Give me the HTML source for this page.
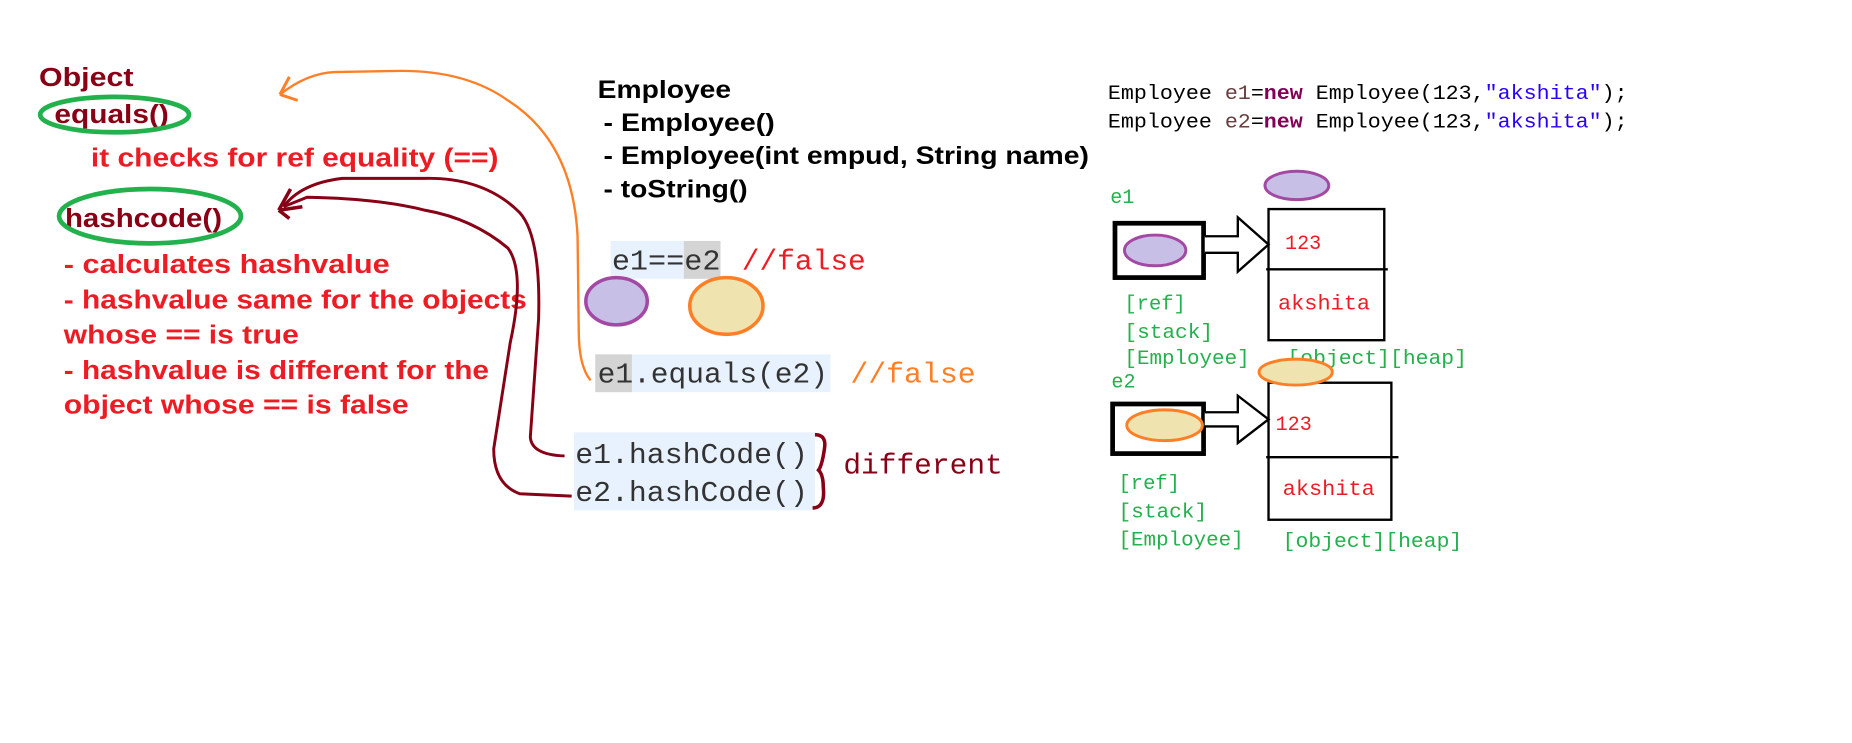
<!DOCTYPE html>
<html><head><meta charset="utf-8"><style>
html,body{margin:0;padding:0;background:#fff;width:1852px;height:743px;overflow:hidden}
svg{display:block}
.b{font-family:"Liberation Sans",sans-serif;font-weight:bold}
.m{font-family:"Liberation Mono",monospace}
</style></head><body>
<svg width="1852" height="743" viewBox="0 0 1568 629" preserveAspectRatio="none" xmlns="http://www.w3.org/2000/svg">
<rect width="1568" height="629" fill="#fff"/>
<g class="b" font-size="22" lengthAdjust="spacingAndGlyphs">
<text x="33" y="73" fill="#880015" textLength="80" lengthAdjust="spacingAndGlyphs">Object</text>
<text x="46" y="104" fill="#880015" textLength="97" lengthAdjust="spacingAndGlyphs">equals()</text>
<text x="77" y="141" fill="#ed1c24" textLength="345" lengthAdjust="spacingAndGlyphs">it checks for ref equality (==)</text>
<text x="55" y="192" fill="#880015" textLength="133" lengthAdjust="spacingAndGlyphs">hashcode()</text>
<text x="54" y="231" fill="#ed1c24" textLength="276" lengthAdjust="spacingAndGlyphs">-  calculates hashvalue</text>
<text x="54" y="261" fill="#ed1c24" textLength="392" lengthAdjust="spacingAndGlyphs">- hashvalue same for the objects</text>
<text x="54" y="291" fill="#ed1c24" textLength="199" lengthAdjust="spacingAndGlyphs">whose == is true</text>
<text x="54" y="321" fill="#ed1c24" textLength="360" lengthAdjust="spacingAndGlyphs">- hashvalue is different for the</text>
<text x="54" y="350" fill="#ed1c24" textLength="292" lengthAdjust="spacingAndGlyphs">object whose == is false</text>
</g>
<ellipse cx="97" cy="97" rx="63" ry="15" fill="none" stroke="#22b14c" stroke-width="4"/>
<ellipse cx="127" cy="183" rx="77" ry="23" fill="none" stroke="#22b14c" stroke-width="4"/>
<g class="b" font-size="21" fill="#000">
<text x="506" y="83" textLength="113" lengthAdjust="spacingAndGlyphs">Employee</text>
<text x="511" y="111" textLength="145" lengthAdjust="spacingAndGlyphs">- Employee()</text>
<text x="511" y="139" textLength="411" lengthAdjust="spacingAndGlyphs">- Employee(int empud, String name)</text>
<text x="511" y="167" textLength="122" lengthAdjust="spacingAndGlyphs">- toString()</text>
</g>
<g class="m" font-size="17">
<text x="938" y="84" fill="#000" textLength="440" lengthAdjust="spacingAndGlyphs">Employee <tspan fill="#6a3e3e">e1</tspan>=<tspan fill="#7f0055" font-weight="bold">new</tspan> Employee(123,<tspan fill="#2a00ff">"akshita"</tspan>);</text>
<text x="938" y="108" fill="#000" textLength="440" lengthAdjust="spacingAndGlyphs">Employee <tspan fill="#6a3e3e">e2</tspan>=<tspan fill="#7f0055" font-weight="bold">new</tspan> Employee(123,<tspan fill="#2a00ff">"akshita"</tspan>);</text>
</g>
<rect x="517" y="204" width="93" height="32" fill="#e8f2fe"/>
<rect x="579" y="204" width="31" height="32" fill="#d4d4d4"/>
<text class="m" x="518" y="228" font-size="24" fill="#333" textLength="92" lengthAdjust="spacingAndGlyphs">e1==e2</text>
<text class="m" x="628" y="228" font-size="24" fill="#ed1c24" textLength="105" lengthAdjust="spacingAndGlyphs">//false</text>
<ellipse cx="522" cy="255" rx="26" ry="20" fill="#c8bfe7" stroke="#a349a4" stroke-width="3"/>
<ellipse cx="615" cy="259" rx="31" ry="24" fill="#efe4b0" stroke="#ff7f27" stroke-width="3"/>
<rect x="504" y="300" width="199" height="32" fill="#e8f2fe"/>
<rect x="504" y="300" width="31" height="32" fill="#d4d4d4"/>
<text class="m" x="506" y="324" font-size="24" fill="#333" textLength="195" lengthAdjust="spacingAndGlyphs">e1.equals(e2)</text>
<text class="m" x="720" y="324" font-size="24" fill="#ff7f27" textLength="106" lengthAdjust="spacingAndGlyphs">//false</text>
<rect x="486" y="366" width="204" height="66" fill="#e8f2fe"/>
<text class="m" x="487" y="392" font-size="24" fill="#333" textLength="197" lengthAdjust="spacingAndGlyphs">e1.hashCode()</text>
<text class="m" x="487" y="424" font-size="24" fill="#333" textLength="197" lengthAdjust="spacingAndGlyphs">e2.hashCode()</text>
<path d="M690 368 Q700 368 698 380 Q696 394 693 398 Q697 402 697 412 Q699 430 688 430" fill="none" stroke="#880015" stroke-width="3"/>
<text class="m" x="714" y="401" font-size="24" fill="#880015" textLength="135" lengthAdjust="spacingAndGlyphs">different</text>
<path d="M500 322 Q490 310 490 280 L489 200 Q485 120 430 85 Q395 60 340 60 L283 61 Q260 62 237 80" fill="none" stroke="#ff7f27" stroke-width="2"/>
<path d="M237 80 L245 65 M237 80 L252 85" fill="none" stroke="#ff7f27" stroke-width="2.5"/>
<path d="M478 386 Q450 385 449 370 L456 270 Q458 200 440 180 Q410 150 360 151 L290 151 Q255 155 240 175" fill="none" stroke="#880015" stroke-width="2.5"/>
<path d="M484 420 L440 418 Q418 410 418 380 L432 290 Q445 230 430 210 Q400 185 360 178 Q320 168 260 167 L240 175" fill="none" stroke="#880015" stroke-width="2.5"/>
<path d="M236 178 L246 160 M236 178 L256 175 M236 178 L245 185" fill="none" stroke="#880015" stroke-width="3"/>
<g class="m" font-size="17" fill="#22b14c">
<text x="940" y="172">e1</text>
<text x="952" y="262" textLength="52" lengthAdjust="spacingAndGlyphs">[ref]</text>
<text x="952" y="286" textLength="75" lengthAdjust="spacingAndGlyphs">[stack]</text>
<text x="952" y="308" textLength="106" lengthAdjust="spacingAndGlyphs">[Employee]</text>
<text x="1090" y="308" textLength="152" lengthAdjust="spacingAndGlyphs">[object][heap]</text>
<text x="941" y="328">e2</text>
<text x="947" y="414" textLength="52" lengthAdjust="spacingAndGlyphs">[ref]</text>
<text x="947" y="438" textLength="75" lengthAdjust="spacingAndGlyphs">[stack]</text>
<text x="947" y="462" textLength="106" lengthAdjust="spacingAndGlyphs">[Employee]</text>
<text x="1086" y="463" textLength="152" lengthAdjust="spacingAndGlyphs">[object][heap]</text>
</g>
<ellipse cx="1098" cy="157" rx="27" ry="12" fill="#c8bfe7" stroke="#a349a4" stroke-width="2.5"/>
<rect x="944" y="189" width="75" height="46" fill="none" stroke="#000" stroke-width="4"/>
<ellipse cx="978" cy="212" rx="26" ry="13" fill="#c8bfe7" stroke="#a349a4" stroke-width="2.5"/>
<path d="M1020 200 L1048 200 L1048 184 L1074 207 L1048 230 L1048 214 L1020 214" fill="#fff" stroke="#000" stroke-width="2"/>
<rect x="1074" y="177" width="98" height="111" fill="none" stroke="#000" stroke-width="2"/>
<line x1="1072" y1="228" x2="1175" y2="228" stroke="#000" stroke-width="2"/>
<text class="m" x="1088" y="211" font-size="17" fill="#ed1c24">123</text>
<text class="m" x="1082" y="262" font-size="18" fill="#ed1c24" textLength="78" lengthAdjust="spacingAndGlyphs">akshita</text>
<rect x="942" y="342" width="77" height="42" fill="none" stroke="#000" stroke-width="4"/>
<ellipse cx="986" cy="360" rx="32" ry="13" fill="#efe4b0" stroke="#ff7f27" stroke-width="2.5"/>
<path d="M1020 349 L1048 349 L1048 335 L1074 355 L1048 375 L1048 361 L1020 361" fill="#fff" stroke="#000" stroke-width="2"/>
<rect x="1074" y="324" width="104" height="116" fill="none" stroke="#000" stroke-width="2"/>
<line x1="1072" y1="387" x2="1184" y2="387" stroke="#000" stroke-width="2"/>
<ellipse cx="1097" cy="315" rx="31" ry="11" fill="#efe4b0" stroke="#ff7f27" stroke-width="2.5"/>
<text class="m" x="1080" y="364" font-size="17" fill="#ed1c24">123</text>
<text class="m" x="1086" y="419" font-size="18" fill="#ed1c24" textLength="78" lengthAdjust="spacingAndGlyphs">akshita</text>
</svg>
</body></html>
